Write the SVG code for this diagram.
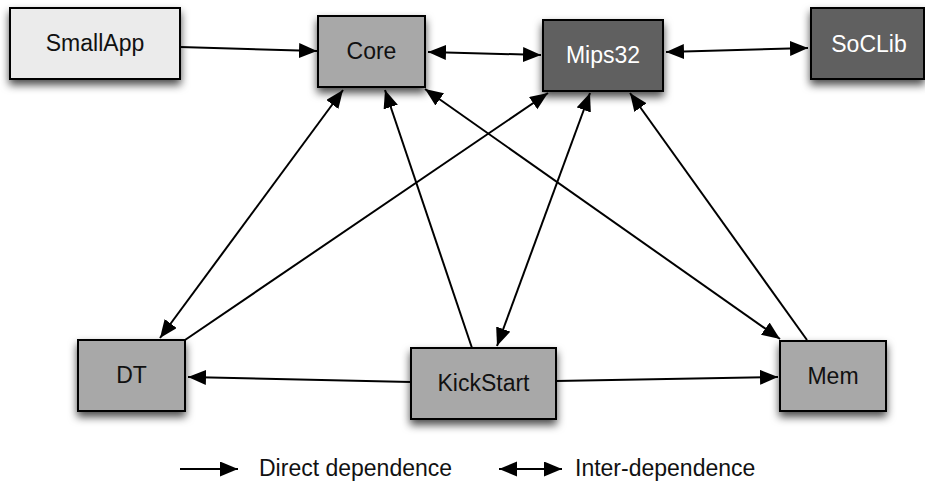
<svg xmlns="http://www.w3.org/2000/svg" width="925" height="481" viewBox="0 0 925 481">
<style>
.box{stroke:#000;stroke-width:2;filter:url(#sh)}
.light{fill:#ebebeb}
.mid{fill:#a8a8a8}
.dark{fill:#606060}
.lbl{font-family:"Liberation Sans",Arial,sans-serif;font-size:23px;text-anchor:middle;fill:#111}
.wl{fill:#fff}
.leg{font-family:"Liberation Sans",Arial,sans-serif;font-size:23px;fill:#111}
.c{stroke:#000;stroke-width:2;fill:none}
.one{marker-end:url(#ah)}
.two{marker-start:url(#ah);marker-end:url(#ah)}
</style>
<defs>
<filter id="sh" x="-20%" y="-20%" width="150%" height="160%">
<feDropShadow dx="0" dy="5" stdDeviation="4" flood-color="#000" flood-opacity="0.7"/>
</filter>
<marker id="ah" markerUnits="userSpaceOnUse" markerWidth="19" markerHeight="16" refX="18" refY="7.5" orient="auto-start-reverse" viewBox="0 0 19 16">
<path d="M0,0 L18,7.5 L0,15 z" fill="#000"/>
</marker>
</defs>
<rect width="925" height="481" fill="#fff"/>
<g id="connectors">
<path class="c one" d="M180,47 L317,51"/>
<path class="c two" d="M428,52 L541,55"/>
<path class="c two" d="M666,52 L808,48"/>
<path class="c one" d="M411,382 L188,377"/>
<path class="c one" d="M556,381 L778,377"/>
<path class="c two" d="M343,90 L160,338"/>
<path class="c one" d="M185,340 L548,93"/>
<path class="c one" d="M472,348 L385,90"/>
<path class="c two" d="M590,93 L497,346"/>
<path class="c two" d="M425,89 L780,339"/>
<path class="c one" d="M807,340 L630,93"/>
</g>
<g id="SmallApp"><rect class="box light" x="10" y="8" width="170" height="71"/><text class="lbl" x="95" y="51">SmallApp</text></g>
<g id="Core"><rect class="box mid" x="318" y="16" width="107" height="71"/><text class="lbl" x="371.5" y="59">Core</text></g>
<g id="Mips32"><rect class="box dark" x="543" y="20" width="120" height="71"/><text class="lbl wl" x="603" y="63">Mips32</text></g>
<g id="SoCLib"><rect class="box dark" x="811" y="8" width="113" height="71"/><text class="lbl wl" x="869" y="52">SoCLib</text></g>
<g id="DT"><rect class="box mid" x="78" y="340" width="107" height="71"/><text class="lbl" x="131.5" y="383">DT</text></g>
<g id="KickStart"><rect class="box mid" x="411" y="348" width="145" height="71"/><text class="lbl" x="483.5" y="391">KickStart</text></g>
<g id="Mem"><rect class="box mid" x="780" y="341" width="106" height="70"/><text class="lbl" x="833" y="384">Mem</text></g>
<g id="legend">
<path class="c one" d="M180,469 L238,469"/>
<text class="leg" x="259" y="476">Direct dependence</text>
<path class="c two" d="M499,469 L562,469"/>
<text class="leg" x="575" y="476">Inter-dependence</text>
</g>
</svg>
